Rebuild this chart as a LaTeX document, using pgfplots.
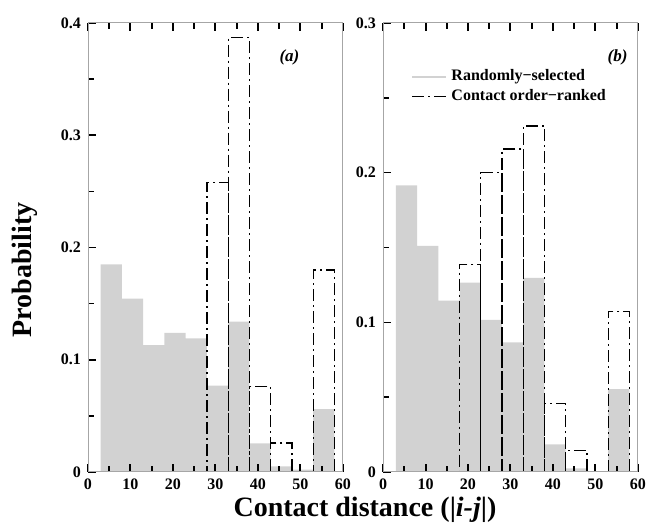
\documentclass[border=0pt]{standalone}
\usepackage{fontspec}
\setmainfont{Liberation Serif}
\usepackage{pgfplots}
\pgfplotsset{compat=1.18}

\pgfplotsset{
  histo/.style={
    scale only axis, width=127.5pt, height=224.5pt,
    xmin=0, xmax=60, ymin=0,
    xtick={0,10,...,60}, minor xtick={5,15,...,55}, minor y tick num=1,
    tick align=inside, xtick pos=both, ytick pos=left,
    major tick length=4pt, minor tick length=3pt,
    axis line style={gray!70, line width=0.5pt},
    xtick style={black, line width=1pt},
    ytick style={black, line width=0.8pt},
    ticklabel style={font=\bfseries\fontsize{8}{9}\selectfont},
    /pgf/number format/assume math mode=true,
    /pgf/number format/fixed,
    axis on top,
  },
  randbar/.style={ybar, bar width=5, bar shift=0pt, fill=gray!35, draw=none, forget plot},
  rankbar/.style={ybar, bar width=5, bar shift=0pt, fill=none, draw=black, line width=0.7pt,
    dash pattern=on 6pt off 2pt on 1pt off 2pt, forget plot},
}

\begin{document}
\begin{tikzpicture}
\useasboundingbox (-44pt,-28.5pt) rectangle (280.5pt,236pt);

% panel (a)
\begin{axis}[histo, ymax=0.4, ytick={0,0.1,0.2,0.3,0.4}]
  \addplot[randbar] table {
    x     y
    5.5   0.185
    10.5  0.1545
    15.5  0.113
    20.5  0.124
    25.5  0.119
    30.5  0.077
    35.5  0.134
    40.5  0.0256
    45.5  0.005
    50.5  0.002
    55.5  0.056
  };
  \addplot[rankbar] table {
    x     y
    30.5  0.258
    35.5  0.387
    40.5  0.076
    45.5  0.026
    50.5  0
    55.5  0.180
  };
  \draw[black, line width=0.9pt] (rel axis cs:0,0) -- (rel axis cs:1,0);
  \node[font=\bfseries\itshape\fontsize{8.5}{10}\selectfont] at (rel axis cs:0.79,0.924) {(a)};
\end{axis}

% panel (b)
\begin{axis}[histo, at={(147.5pt,0pt)}, ymax=0.3, ytick={0,0.1,0.2,0.3},
    legend style={at={(rel axis cs:0.086,0.915)}, anchor=north west, draw=none, fill=none,
      font=\bfseries\fontsize{8}{9}\selectfont, row sep=-1pt},
    legend cell align=left]
  \addplot[randbar] table {
    x     y
    5.5   0.1915
    10.5  0.151
    15.5  0.1145
    20.5  0.1266
    25.5  0.1016
    30.5  0.0866
    35.5  0.1297
    40.5  0.0185
    45.5  0.0025
    50.5  0
    55.5  0.0554
  };
  \addplot[rankbar] table {
    x     y
    20.5  0.1386
    25.5  0.200
    30.5  0.2157
    35.5  0.2313
    40.5  0.0458
    45.5  0.0145
    50.5  0
    55.5  0.1074
  };
  \addlegendimage{gray!35, line width=1pt}
  \addlegendentry{Randomly−selected}
  \addlegendimage{black, line width=0.7pt, dash pattern=on 6pt off 2pt on 1pt off 2pt}
  \addlegendentry{Contact order−ranked}
  \draw[black, line width=0.9pt] (rel axis cs:0,0) -- (rel axis cs:1,0);
  \node[font=\bfseries\itshape\fontsize{8.5}{10}\selectfont] at (rel axis cs:0.92,0.924) {(b)};
\end{axis}

\node[rotate=90, font=\bfseries\fontsize{14}{16}\selectfont] at (-31.5pt,101pt) {Probability};
\node[font=\bfseries\fontsize{14}{16}\selectfont] at (138.5pt,-19pt) {Contact distance (|\textit{i-j}|)};
\end{tikzpicture}
\end{document}
